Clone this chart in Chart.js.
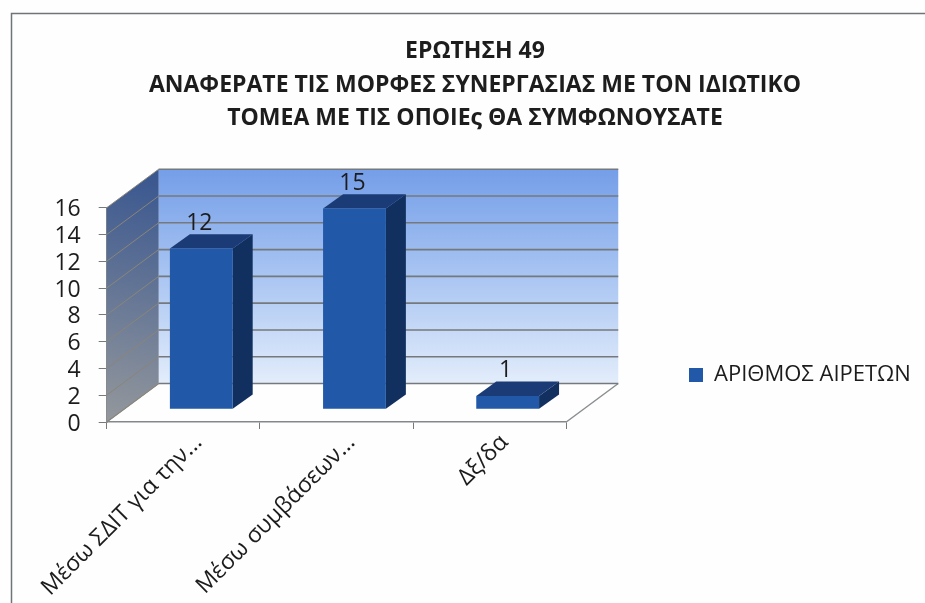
<!DOCTYPE html>
<html>
<head>
<meta charset="utf-8">
<style>
  html, body { margin: 0; padding: 0; background: #fff; }
  #wrap { width: 925px; height: 603px; }
  canvas { filter: blur(0.5px); }
</style>
<script src="https://cdn.jsdelivr.net/npm/chart.js@4"></script>
</head>
<body>
<div id="wrap"><canvas id="chart" width="925" height="603"></canvas></div>
<script>
const titleLines = [
  'ΕΡΩΤΗΣΗ 49',
  'ΑΝΑΦΕΡΑΤΕ ΤΙΣ ΜΟΡΦΕΣ ΣΥΝΕΡΓΑΣΙΑΣ ΜΕ ΤΟΝ ΙΔΙΩΤΙΚΟ',
  'ΤΟΜΕΑ ΜΕ ΤΙΣ ΟΠΟΙΕς ΘΑ ΣΥΜΦΩΝΟΥΣΑΤΕ'
];
const categories = ['Μέσω ΣΔΙΤ για την...', 'Μέσω συμβάσεων...', 'Δξ/δα'];
const seriesName = 'ΑΡΙΘΜΟΣ ΑΙΡΕΤΩΝ';
const seriesValues = [12, 15, 1];

const fontFamily = '"Open Sans", "Noto Sans", sans-serif';

// depth of the box and of the bars, in pixels
const boxDepth = { x: 52, y: 38.5 };
const barDepth = { x: 20, y: 14.3 };
const barShift = { x: 18, y: 12.7 };

// Plugin for the fake 3D box, Chart.js has no 3D bars
const depthPlugin = {
  id: 'depthPlugin',
  afterLayout(chart) {
    const pad = chart.legend.options.labels.padding;
    chart.legend.left = 689 - pad;
    chart.legend.right = 925;
    chart.legend.top = 364 - pad;
    // title is centred on the frame, not on the canvas
    chart.titleBlock.left = 25;
    chart.titleBlock.right = 925;
  },
  beforeDraw(chart) {
    const ctx = chart.ctx;
    ctx.save();
    ctx.fillStyle = '#fefefe';
    ctx.fillRect(0, 0, chart.width, chart.height);
    ctx.strokeStyle = '#6f7478';
    ctx.lineWidth = 1.5;
    ctx.beginPath();
    ctx.moveTo(11.5, 603);
    ctx.lineTo(11.5, 13.5);
    ctx.lineTo(925, 13.5);
    ctx.stroke();
    ctx.restore();
  },
  beforeDatasetsDraw(chart) {
    const ctx = chart.ctx;
    const { left, right, top, bottom } = chart.chartArea;
    const y = chart.scales.y;
    ctx.save();

    // back wall
    const back = ctx.createLinearGradient(0, top - boxDepth.y, 0, bottom - boxDepth.y);
    back.addColorStop(0, '#749ee8');
    back.addColorStop(0.5, '#a9c5f2');
    back.addColorStop(1, '#e3edfb');
    ctx.fillStyle = back;
    ctx.fillRect(left + boxDepth.x, top - boxDepth.y, right - left, bottom - top);

    // left wall
    const side = ctx.createLinearGradient(left + boxDepth.x, top - boxDepth.y, left, bottom);
    side.addColorStop(0, '#37558f');
    side.addColorStop(1, '#94989c');
    ctx.fillStyle = side;
    ctx.beginPath();
    ctx.moveTo(left, top);
    ctx.lineTo(left + boxDepth.x, top - boxDepth.y);
    ctx.lineTo(left + boxDepth.x, bottom - boxDepth.y);
    ctx.lineTo(left, bottom);
    ctx.closePath();
    ctx.fill();

    // floor edge
    ctx.strokeStyle = '#8b8f92';
    ctx.lineWidth = 1.5;
    ctx.beginPath();
    ctx.moveTo(left + boxDepth.x, bottom - boxDepth.y);
    ctx.lineTo(left, bottom);
    ctx.moveTo(right, bottom);
    ctx.lineTo(right + boxDepth.x, bottom - boxDepth.y);
    ctx.stroke();

    // grid lines run along the left wall and then the back wall
    y.ticks.forEach(t => {
      const py = y.getPixelForValue(t.value);
      ctx.strokeStyle = '#8a8578';
      ctx.lineWidth = 1;
      ctx.beginPath();
      ctx.moveTo(left, py);
      ctx.lineTo(left + boxDepth.x, py - boxDepth.y);
      ctx.stroke();
      ctx.strokeStyle = '#76797c';
      ctx.lineWidth = 1.6;
      ctx.beginPath();
      ctx.moveTo(left + boxDepth.x, py - boxDepth.y);
      ctx.lineTo(right + boxDepth.x, py - boxDepth.y);
      ctx.stroke();
    });

    // side and top faces of each bar
    chart.getDatasetMeta(0).data.forEach(bar => {
      const x0 = bar.x - bar.width / 2 + barShift.x;
      const x1 = bar.x + bar.width / 2 + barShift.x;
      const yt = bar.y - barShift.y;
      const yb = bar.base - barShift.y;
      ctx.fillStyle = '#12305f';
      ctx.beginPath();
      ctx.moveTo(x1, yt);
      ctx.lineTo(x1 + barDepth.x, yt - barDepth.y);
      ctx.lineTo(x1 + barDepth.x, yb - barDepth.y);
      ctx.lineTo(x1, yb);
      ctx.closePath();
      ctx.fill();
      ctx.fillStyle = '#1a3b76';
      ctx.beginPath();
      ctx.moveTo(x0, yt);
      ctx.lineTo(x0 + barDepth.x, yt - barDepth.y);
      ctx.lineTo(x1 + barDepth.x, yt - barDepth.y);
      ctx.lineTo(x1, yt);
      ctx.closePath();
      ctx.fill();
    });
    ctx.restore();

    // front faces are the library's own bars, moved into the box
    ctx.save();
    ctx.translate(barShift.x, -barShift.y);
  },
  afterDatasetsDraw(chart) {
    const ctx = chart.ctx;
    ctx.restore();
    ctx.save();
    ctx.fillStyle = '#1c1c1c';
    ctx.font = '23px ' + fontFamily;
    ctx.textAlign = 'center';
    ctx.textBaseline = 'middle';
    chart.getDatasetMeta(0).data.forEach((bar, i) => {
      ctx.fillText(seriesValues[i], bar.x + barShift.x - 2, bar.y - barShift.y - barDepth.y - 11);
    });
    ctx.restore();
  }
};

new Chart(document.getElementById('chart'), {
  type: 'bar',
  data: {
    labels: categories,
    datasets: [{
      label: seriesName,
      data: seriesValues,
      backgroundColor: '#2158a8',
      borderWidth: 0,
      categoryPercentage: 0.41,
      barPercentage: 1,
      clip: false
    }]
  },
  options: {
    responsive: false,
    animation: false,
    layout: { padding: { right: 170 } },
    plugins: {
      title: {
        display: true,
        text: titleLines,
        color: '#1d1d1d',
        font: { family: fontFamily, size: 23, weight: 'bold', lineHeight: 1.46 },
        padding: { top: 35, bottom: 72 }
      },
      legend: {
        position: 'right',
        align: 'start',
        labels: {
          padding: 10,
          boxWidth: 14,
          boxHeight: 14,
          color: '#1c1c1c',
          font: { family: fontFamily, size: 22 }
        }
      },
      tooltip: { enabled: false }
    },
    scales: {
      x: {
        afterFit(scale) { scale.height = 181; },
        grid: { drawOnChartArea: false, offset: true, color: '#76797c', tickLength: 7 },
        border: { color: '#85888b', width: 1.5 },
        ticks: {
          color: '#1c1c1c',
          font: { family: fontFamily, size: 23 },
          maxRotation: 45,
          minRotation: 45,
          autoSkip: false,
          labelOffset: 15,
          padding: 0
        }
      },
      y: {
        min: 0,
        max: 16,
        afterFit(scale) { scale.width = 106.7; },
        grid: { drawOnChartArea: false, color: '#76797c', tickLength: 8 },
        border: { color: '#85888b', width: 1.5 },
        ticks: {
          stepSize: 2,
          autoSkip: false,
          color: '#1c1c1c',
          font: { family: fontFamily, size: 23 },
          padding: 18,
          labelOffset: 2
        }
      }
    }
  },
  plugins: [depthPlugin]
});
</script>
</body>
</html>
